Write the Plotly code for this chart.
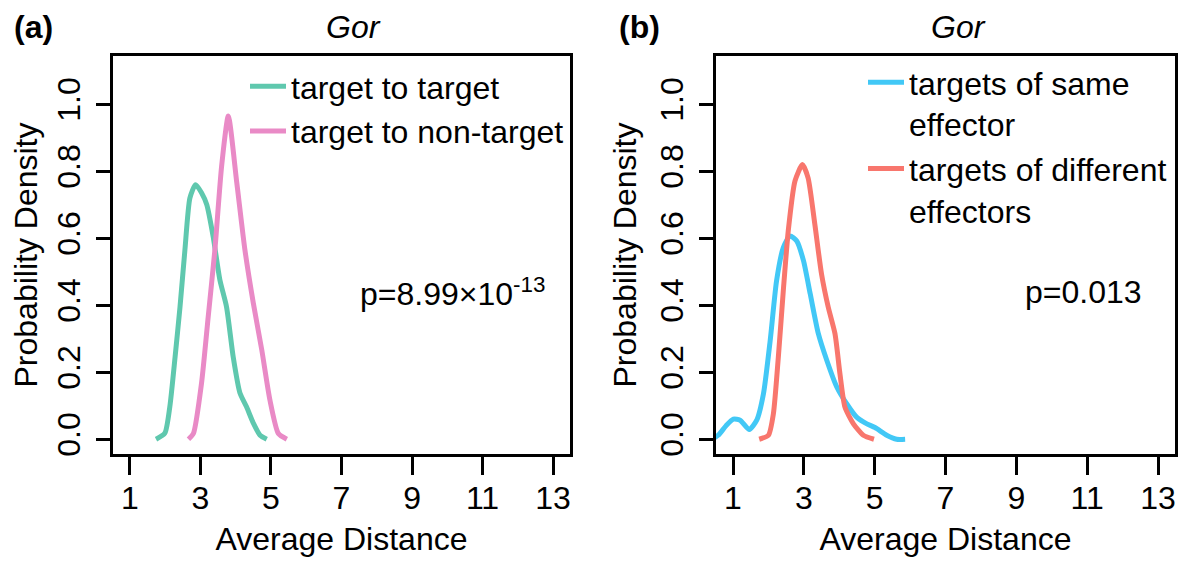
import plotly.graph_objects as go

# ---------------- data ----------------
# Panel (a)
tt_x = [1.74, 1.99, 2.13, 2.28, 2.42, 2.56, 2.70, 2.86, 3.03, 3.18, 3.36, 3.55, 3.74, 3.93, 4.12, 4.31, 4.50, 4.69, 4.88]
tt_y = [0.0, 0.018, 0.096, 0.245, 0.395, 0.566, 0.72, 0.76, 0.736, 0.70, 0.605, 0.476, 0.395, 0.245, 0.138, 0.096, 0.048, 0.012, 0.0]

tn_x = [2.66, 2.80, 3.03, 3.22, 3.41, 3.60, 3.79, 4.03, 4.26, 4.50, 4.74, 4.97, 5.21, 5.45]
tn_y = [0.0, 0.017, 0.167, 0.366, 0.566, 0.815, 0.965, 0.766, 0.566, 0.406, 0.266, 0.117, 0.017, 0.0]

# Panel (b)
se_x = [0.40, 0.585, 0.80, 1.01, 1.20, 1.46, 1.67, 1.86, 2.05, 2.23, 2.42, 2.61, 2.80, 2.99, 3.18, 3.41, 3.65, 3.93,
        4.21, 4.49, 4.78, 5.01, 5.34, 5.62, 5.86]
se_y = [0.0, 0.012, 0.04, 0.06, 0.057, 0.029, 0.057, 0.136, 0.295, 0.473, 0.572, 0.607, 0.592, 0.533, 0.434, 0.315,
        0.235, 0.156, 0.106, 0.066, 0.046, 0.035, 0.012, 0.0, 0.0]

de_x = [1.74, 2.00, 2.14, 2.28, 2.42, 2.56, 2.75, 2.96, 3.12, 3.31, 3.50, 3.69, 3.88, 4.02, 4.16, 4.40, 4.68, 4.98]
de_y = [0.0, 0.012, 0.076, 0.245, 0.443, 0.622, 0.771, 0.82, 0.78, 0.642, 0.493, 0.394, 0.315, 0.195, 0.096, 0.046,
        0.012, 0.0]

x_ticks = [1, 3, 5, 7, 9, 11, 13]
y_ticks = [0.0, 0.2, 0.4, 0.6, 0.8, 1.0]

names_a = ["target to target", "target to non-target"]
names_b = ["targets of same<br>effector", "targets of different<br>effectors"]
colors = ["#5FC8AE", "#E98AC6", "#42C8F6", "#F8766D"]

FONT = "Liberation Sans, Arial, Helvetica, sans-serif"
FS = 32

# page offset (browser body margin) and figure size
OFF = 8
W, H = 1187 - OFF, 562 - OFF


def fx(px):
    return (px - OFF) / W


def fy(py):
    return 1 - (py - OFF) / H


fig = go.Figure()
line_kw = dict(width=5, shape="spline", smoothing=0.6)

fig.add_trace(go.Scatter(x=tt_x, y=tt_y, mode="lines", name=names_a[0],
                         line=dict(color=colors[0], **line_kw), xaxis="x", yaxis="y", legend="legend"))
fig.add_trace(go.Scatter(x=tn_x, y=tn_y, mode="lines", name=names_a[1],
                         line=dict(color=colors[1], **line_kw), xaxis="x", yaxis="y", legend="legend"))
fig.add_trace(go.Scatter(x=se_x, y=se_y, mode="lines", name=names_b[0],
                         line=dict(color=colors[2], **line_kw), xaxis="x2", yaxis="y2", legend="legend2"))
fig.add_trace(go.Scatter(x=de_x, y=de_y, mode="lines", name=names_b[1],
                         line=dict(color=colors[3], **line_kw), xaxis="x2", yaxis="y2", legend="legend2"))

ydom = [fy(454), fy(56)]

xax = dict(range=[0.52, 13.48], tickvals=x_ticks, ticks="outside", ticklen=18, tickwidth=2.5,
           tickcolor="black", showline=True, mirror=True, linecolor="black", linewidth=2.5,
           showgrid=False, zeroline=False, tickfont=dict(size=FS, color="black"),
           ticklabelstandoff=-4, automargin=False,
           title=dict(text="Average Distance", font=dict(size=FS, color="black"), standoff=13))
yax = dict(range=[-0.044, 1.144], tickvals=y_ticks, tickformat=".1f", tickangle=-90, ticks="outside",
           ticklen=14, tickwidth=2.5, tickcolor="black", showline=True, mirror=True, linecolor="black",
           linewidth=2.5, showgrid=False, zeroline=False, tickfont=dict(size=FS, color="black"),
           ticklabelstandoff=3, automargin=False,
           title=dict(text="Probability Density", font=dict(size=FS, color="black"), standoff=9))

fig.update_layout(
    width=W, height=H, margin=dict(l=0, r=0, t=0, b=0, pad=0),
    paper_bgcolor="white", plot_bgcolor="white",
    font=dict(family=FONT, size=FS, color="black"),
    xaxis=dict(domain=[fx(113), fx(570)], anchor="y", **xax),
    yaxis=dict(domain=ydom, anchor="x", **yax),
    xaxis2=dict(domain=[fx(716), fx(1175)], anchor="y2", **xax),
    yaxis2=dict(domain=ydom, anchor="x2", **yax),
    legend=dict(x=fx(245), y=fy(59), xanchor="left", yanchor="top", bgcolor="rgba(0,0,0,0)",
                font=dict(size=FS, color="black"), itemwidth=36, tracegroupgap=0, valign="top"),
    legend2=dict(x=fx(863), y=fy(55), xanchor="left", yanchor="top", bgcolor="rgba(0,0,0,0)",
                 font=dict(size=FS, color="black"), itemwidth=36, tracegroupgap=0, valign="top"),
    showlegend=True,
)

ann = [
    dict(text="<b>(a)</b>", x=fx(12), y=fy(27), xanchor="left"),
    dict(text="<b>(b)</b>", x=fx(617), y=fy(27), xanchor="left"),
    dict(text="<i>Gor</i>", x=fx(353), y=fy(27), xanchor="center"),
    dict(text="<i>Gor</i>", x=fx(958), y=fy(27), xanchor="center"),
]
for a in ann:
    fig.add_annotation(xref="paper", yref="paper", yanchor="middle", showarrow=False,
                       font=dict(size=FS, color="black", family=FONT), **a)

fig.add_annotation(xref="x", yref="y", x=7.47, y=0.44, text="p=8.99×10<sup>-13</sup>", showarrow=False,
                   xanchor="left", font=dict(size=FS, color="black"))
fig.add_annotation(xref="x2", yref="y2", x=9.19, y=0.44, text="p=0.013", showarrow=False,
                   xanchor="left", font=dict(size=FS, color="black"))

fig.write_html("out.html")
